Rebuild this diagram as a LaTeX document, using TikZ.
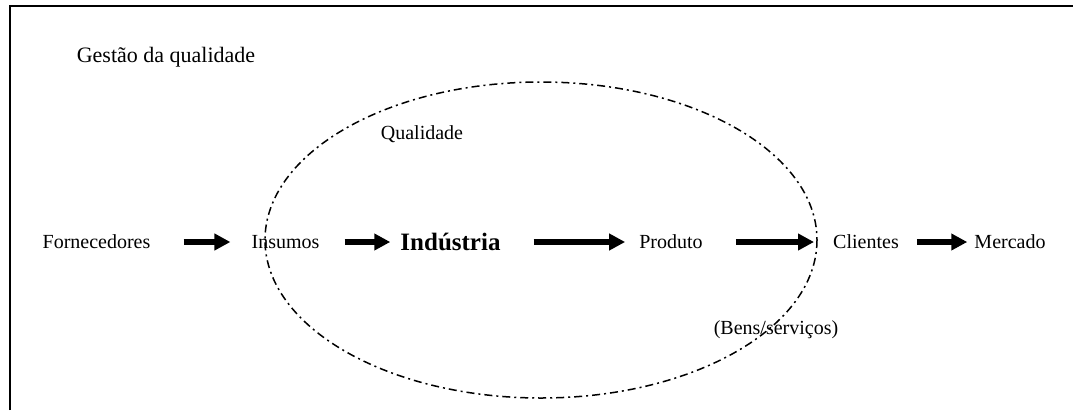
\documentclass[tikz,border=0pt]{standalone}
\usepackage{fontspec}
\setmainfont{Liberation Serif}
\usetikzlibrary{arrows.meta}
\begin{document}
\begin{tikzpicture}[x=1pt,y=-1pt,
  lbl/.style={inner sep=0pt,anchor=base,font=\fontsize{20}{24}\selectfont},
  flow/.style={line width=5.5pt,-{Triangle[length=16pt,width=16pt]}},
  frameline/.style={line width=2pt},
  qual/.style={line width=1.5pt,dash pattern=on 8pt off 4pt on 2pt off 4pt}]
\useasboundingbox (0,0) rectangle (1073,410);
\coordinate (c0) at (10,410);
\coordinate (c1) at (10,6);
\coordinate (c2) at (1073,6);
\draw[frameline] (c0) -- (c1) -- (c2);
\draw[qual] (541,240) ellipse [x radius=276, y radius=158];
\node[lbl,font=\fontsize{22}{26}\selectfont] (gq) at (166,62) {Gestão da qualidade};
\node[lbl] (q) at (422,139) {Qualidade};
\node[lbl] (forn) at (96.5,248) {Fornecedores};
\node[lbl] (ins) at (285.5,248) {Insumos};
\node[lbl,font=\fontsize{25}{30}\selectfont\bfseries] (ind) at (450.5,250) {Indústria};
\node[lbl] (prod) at (671,248) {Produto};
\node[lbl] (cli) at (866,248) {Clientes};
\node[lbl] (mer) at (1010,248) {Mercado};
\node[lbl] (bens) at (776,334) {(Bens/serviços)};
\draw[flow,shorten <=33pt,shorten >=21pt] (forn.east |- 0,242) -- (ins.west |- 0,242);
\draw[flow,shorten <=25pt,shorten >=10pt] (ins.east |- 0,242) -- (ind.west |- 0,242);
\draw[flow,shorten <=33pt,shorten >=14pt] (ind.east |- 0,242) -- (prod.west |- 0,242);
\draw[flow,shorten <=33pt,shorten >=19pt] (prod.east |- 0,242) -- (cli.west |- 0,242);
\draw[flow,shorten <=18pt,shorten >=7pt] (cli.east |- 0,242) -- (mer.west |- 0,242);
\end{tikzpicture}
\end{document}
